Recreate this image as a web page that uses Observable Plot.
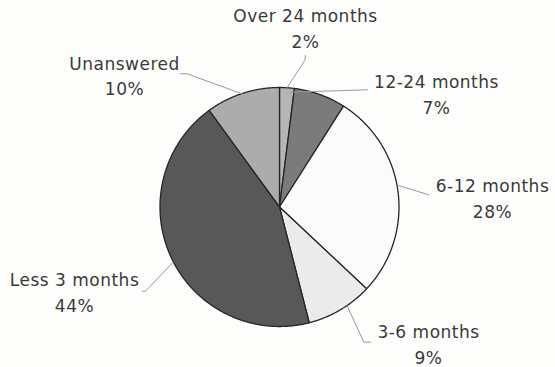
<!DOCTYPE html>
<html>
<head>
<meta charset="utf-8">
<script src="https://cdn.jsdelivr.net/npm/d3@7"></script>
<script src="https://cdn.jsdelivr.net/npm/@observablehq/plot@0.6"></script>
<style>
  html, body { margin: 0; padding: 0; background: #fdfdfc; }
  #chart svg { display: block; }
  #chart svg text { letter-spacing: 0.5px; }
</style>
</head>
<body>
<div id="chart"></div>
<script>
// Duration categories, clockwise from 12 o'clock
const categories = ["Over 24 months", "12-24 months", "6-12 months", "3-6 months", "Less 3 months", "Unanswered"];
const shares = [2, 7, 28, 9, 44, 10];
const shareLabels = ["2%", "7%", "28%", "9%", "44%", "10%"];

// Layout (pixels)
const W = 555, H = 367;
const cx = 279, cy = 206.5, R = 119.5;
const sliceFills = ["#b5b5b5", "#7b7b7b", "#fbfbfb", "#ebebeb", "#585858", "#acacac"];

// Label centre / last-line baseline, and leader-line path (elbows)
const labelLayout = {
  "Over 24 months": {x: 305, y: 47, leader: [[286.5, 87.3], [304.3, 60], [305, 55]]},
  "12-24 months":   {x: 436, y: 113, leader: [[289, 91.7], [367, 89.3]]},
  "6-12 months":    {x: 492, y: 217, leader: [[398.3, 185], [428.3, 194.3]]},
  "3-6 months":     {x: 428, y: 363, leader: [[346.7, 305.5], [363.3, 341.7], [370, 341.7]]},
  "Less 3 months":  {x: 74,  y: 311, leader: [[171.7, 262.7], [145, 290.7], [141.7, 290.7]]},
  "Unanswered":     {x: 124, y: 94.5, leader: [[242, 93.5], [186.7, 73.3], [180, 73.3]]}
};

// Slice polygons from the pie layout
const arcs = d3.pie().sort(null).value(d => d.share)(
  categories.map((name, i) => ({name, share: shares[i], label: shareLabels[i]}))
);
const slicePts = [];
for (const a of arcs) {
  const name = a.data.name;
  slicePts.push({name, x: cx, y: cy});
  const n = Math.max(2, Math.ceil((a.endAngle - a.startAngle) / 0.01));
  for (let k = 0; k <= n; k++) {
    const t = a.startAngle + (a.endAngle - a.startAngle) * k / n;
    slicePts.push({name, x: cx + R * Math.sin(t), y: cy - R * Math.cos(t)});
  }
  slicePts.push({name, x: cx, y: cy});
}

const leaderPts = categories.flatMap(name =>
  labelLayout[name].leader.map(([x, y]) => ({name, x, y}))
);
const labels = arcs.map(a => ({
  text: a.data.name + "\n" + a.data.label,
  x: labelLayout[a.data.name].x,
  y: labelLayout[a.data.name].y
}));

const chart = Plot.plot({
  width: W,
  height: H,
  margin: 0,
  x: {domain: [0, W], range: [0, W], axis: null},
  y: {domain: [0, H], range: [0, H], axis: null},
  color: {domain: categories, range: sliceFills},
  style: {background: "transparent", fontFamily: "DejaVu Sans, sans-serif"},
  marks: [
    Plot.line(slicePts, {x: "x", y: "y", z: "name", fill: "name", stroke: "#262626", strokeWidth: 1.3, strokeLinejoin: "round"}),
    Plot.line(leaderPts, {x: "x", y: "y", z: "name", stroke: "#9a9a9a", strokeWidth: 1}),
    Plot.text(labels, {x: "x", y: "y", text: "text", textAnchor: "middle", lineAnchor: "bottom", lineHeight: 1.5, fontSize: 17, fill: "#3a3a3a"})
  ]
});
document.getElementById("chart").appendChild(chart);
</script>
</body>
</html>
